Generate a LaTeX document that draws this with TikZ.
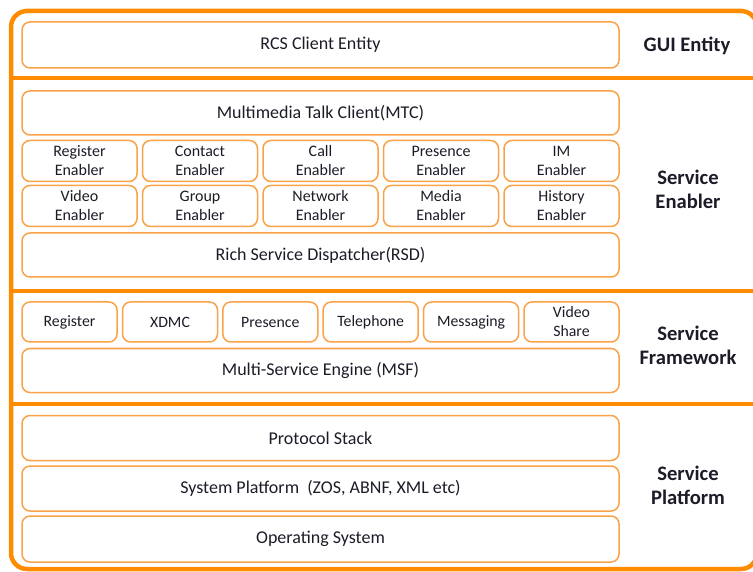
\documentclass[tikz,border=0pt]{standalone}
\usepackage{fontspec}
\setmainfont{Carlito}
\usetikzlibrary{positioning}
\definecolor{frameorange}{RGB}{255,140,0}
\definecolor{boxorange}{RGB}{250,162,72}
\definecolor{inktext}{RGB}{28,28,40}
\tikzset{layerbox/.style={
            draw=boxorange,
            line width=1.5pt,
            rounded corners=8pt,
            inner sep=0pt,
            minimum width=597pt,
            minimum height=44pt,
            text=inktext,
            font=\fontsize{18}{20}\selectfont
        },
        enablerbox/.style={
            layerbox,
            align=center,
            minimum width=115pt,
            minimum height=41pt,
            font=\fontsize{16}{19}\selectfont
        },
        modulebox/.style={
            layerbox,
            align=center,
            minimum width=95pt,
            minimum height=40pt,
            font=\fontsize{15.8}{19}\selectfont
        },
        tag/.style={
            align=center,
            text=inktext,
            font=\fontsize{20.6}{24}\selectfont\bfseries
        },
        frame/.style={
            draw=frameorange,
            line width=4.5pt
        }
    }
\begin{document}
\begin{tikzpicture}[x=1pt,y=-1pt]
        \useasboundingbox (0,0) rectangle (753,572);
        \clip (0,0) rectangle (753,572);

        % outer frame and layer dividers
        \draw[frame,rounded corners=16pt] (11,11) rectangle (757,569);
        \draw[frame] (11,78) -- (757,78);
        \draw[frame] (11,291) -- (757,291);
        \draw[frame] (11,404) -- (757,404);

        % GUI entity
        \node[layerbox,minimum height=46pt] (rcs) at (320.5,45) {RCS Client Entity};
        \node[tag] (gui) at (687,46) {GUI Entity};

        % service enabler
        \node[layerbox] (mtc) at (320.5,113) {Multimedia Talk Client(MTC)};
        \node[enablerbox] (regen) at (79.5,161) {Register\\Enabler};
        \node[enablerbox] (conten) at (200,161) {Contact\\Enabler};
        \node[enablerbox] (callen) at (320.5,161) {Call\\Enabler};
        \node[enablerbox] (presen) at (441,161) {Presence\\Enabler};
        \node[enablerbox] (imen) at (561.5,161) {IM\\Enabler};
        \node[enablerbox] (viden) at (79.5,206) {Video\\Enabler};
        \node[enablerbox] (groupen) at (200,206) {Group\\Enabler};
        \node[enablerbox] (neten) at (320.5,206) {Network\\Enabler};
        \node[enablerbox] (mediaen) at (441,206) {Media\\Enabler};
        \node[enablerbox] (histen) at (561.5,206) {History\\Enabler};
        \node[layerbox] (rsd) at (320.5,255) {Rich Service Dispatcher(RSD)};
        \node[tag] (enabler) at (688,189) {Service\\Enabler};

        % service framework
        \node[modulebox] (regmod) at (69.5,322) {Register};
        \node[modulebox] (xdmc) at (170,322) {XDMC};
        \node[modulebox] (presmod) at (270.3,322) {Presence};
        \node[modulebox] (telmod) at (370.7,322) {Telephone};
        \node[modulebox] (msgmod) at (471.1,322) {Messaging};
        \node[modulebox] (vidmod) at (571.5,322) {Video\\Share};
        \node[layerbox] (msf) at (320.5,370.5) {Multi-Service Engine (MSF)};
        \node[tag] (framework) at (688,345) {Service\\Framework};

        % service platform
        \node[layerbox,minimum height=45pt] (stack) at (320.5,438) {Protocol Stack};
        \node[layerbox,minimum height=45pt] (sysplat) at (320.5,488.5) {System Platform\ \ (ZOS, ABNF, XML etc)};
        \node[layerbox,minimum height=46pt] (os) at (320.5,539) {Operating System};
        \node[tag] (platform) at (688,485) {Service\\Platform};

    \end{tikzpicture}
\end{document}
